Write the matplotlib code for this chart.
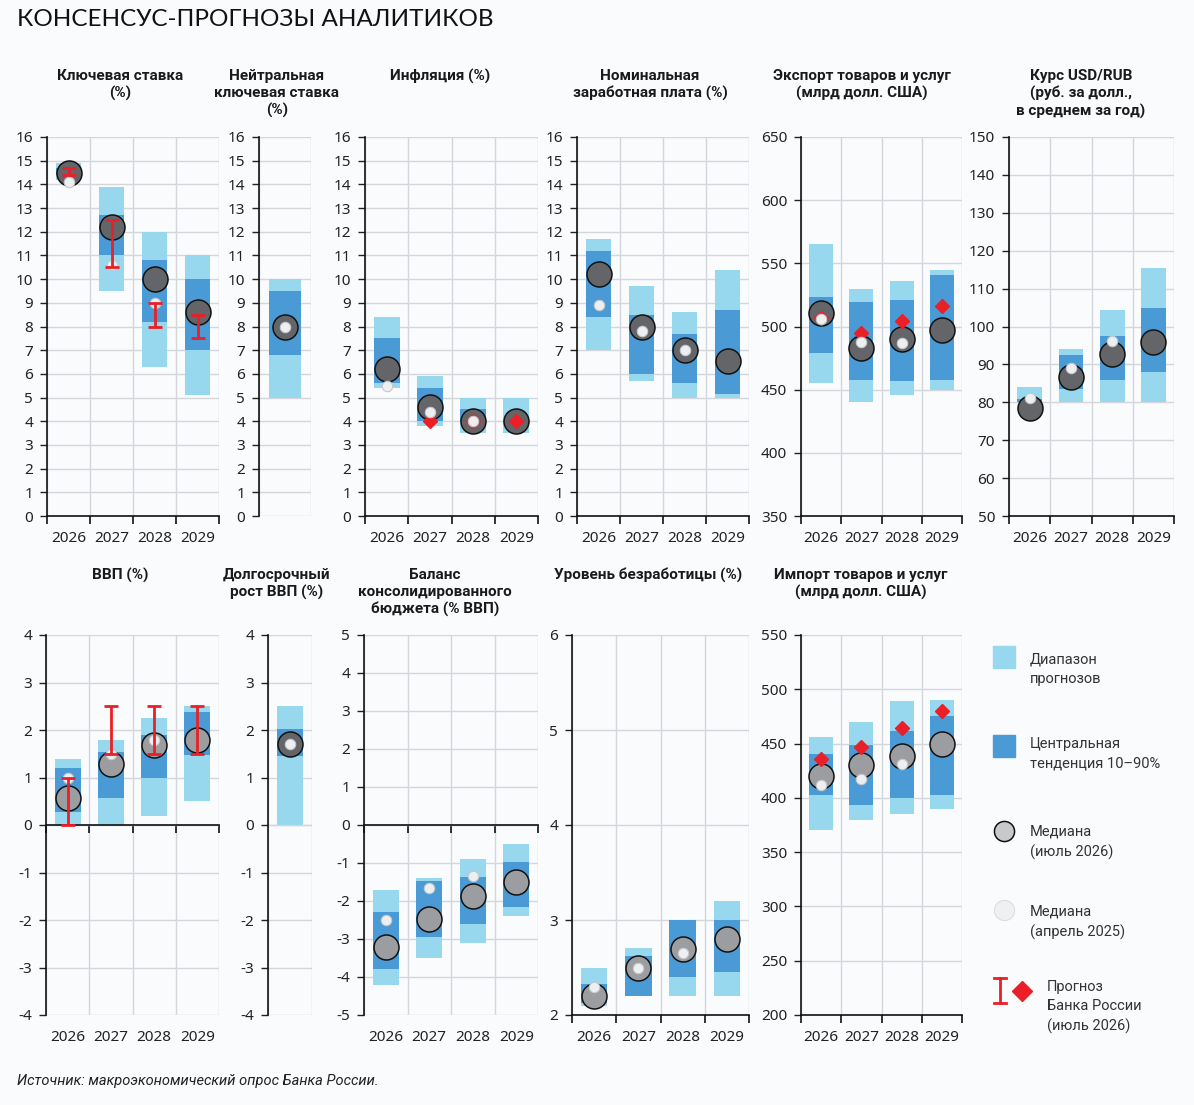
import numpy as np
import matplotlib
matplotlib.use('Agg')
import matplotlib.pyplot as plt
from matplotlib.patches import Rectangle

plt.rcParams['axes.unicode_minus'] = False
plt.rcParams['font.family'] = ['Noto Sans', 'DejaVu Sans']

# ---------------- data ----------------
years = ['2026', '2027', '2028', '2029']
nan = np.nan

key_lo = [14.2, 9.5, 6.3, 5.1]
key_hi = [14.9, 13.9, 12.0, 11.0]
key_p10 = [14.4, 11.0, 8.2, 7.0]
key_p90 = [14.7, 12.7, 10.8, 10.0]
key_med = [14.5, 12.2, 10.0, 8.6]
key_apr = [14.1, 10.6, 9.0, nan]
key_cb_lo = [14.4, 10.5, 8.0, 7.5]
key_cb_hi = [14.7, 12.5, 9.0, 8.5]

neu_lo = [5.0]
neu_hi = [10.0]
neu_p10 = [6.8]
neu_p90 = [9.5]
neu_med = [8.0]
neu_apr = [8.0]

inf_lo = [5.4, 3.8, 3.5, 3.5]
inf_hi = [8.4, 5.9, 5.0, 5.0]
inf_p10 = [5.6, 4.0, 4.0, 4.0]
inf_p90 = [7.5, 5.4, 4.5, 4.0]
inf_med = [6.2, 4.6, 4.0, 4.0]
inf_apr = [5.5, 4.4, 4.0, nan]
inf_cb = [nan, 4.0, 4.0, 4.0]

wag_lo = [7.0, 5.7, 5.0, 5.0]
wag_hi = [11.7, 9.7, 8.6, 10.4]
wag_p10 = [8.4, 6.0, 5.6, 5.15]
wag_p90 = [11.2, 8.5, 7.7, 8.7]
wag_med = [10.2, 8.0, 7.0, 6.55]
wag_apr = [8.9, 7.8, 7.0, nan]

exp_lo = [455, 440, 446, 450]
exp_hi = [565, 530, 536, 545]
exp_p10 = [479, 458, 457, 458]
exp_p90 = [523, 519, 521, 541]
exp_med = [511, 483, 490, 497]
exp_apr = [506, 488, 487, nan]
exp_cb = [507, 495, 504, 516]

usd_lo = [80, 80, 80, 80]
usd_hi = [84, 94, 104.4, 115.4]
usd_p10 = [80, 83.5, 86, 88]
usd_p90 = [81, 92.4, 97.5, 104.9]
usd_med = [78.4, 86.7, 92.7, 95.8]
usd_apr = [81.2, 89.1, 96.3, nan]

gdp_lo = [0.0, 0.0, 0.2, 0.5]
gdp_hi = [1.4, 1.8, 2.25, 2.5]
gdp_p10 = [0.28, 0.57, 0.98, 1.47]
gdp_p90 = [1.19, 1.53, 1.9, 2.37]
gdp_med = [0.57, 1.29, 1.69, 1.8]
gdp_apr = [1.0, 1.5, 1.8, nan]
gdp_cb_lo = [0.0, 1.5, 1.5, 1.5]
gdp_cb_hi = [1.0, 2.5, 2.5, 2.5]

ltg_lo = [0.0]
ltg_hi = [2.5]
ltg_p10 = [1.46]
ltg_p90 = [2.03]
ltg_med = [1.7]
ltg_apr = [1.7]

bud_lo = [-4.2, -3.5, -3.1, -2.4]
bud_hi = [-1.7, -1.4, -0.9, -0.5]
bud_p10 = [-3.8, -2.95, -2.6, -2.15]
bud_p90 = [-2.3, -1.47, -1.37, -0.97]
bud_med = [-3.2, -2.47, -1.88, -1.5]
bud_apr = [-2.5, -1.65, -1.35, nan]

une_lo = [2.1, 2.2, 2.2, 2.2]
une_hi = [2.5, 2.7, 3.0, 3.2]
une_p10 = [2.13, 2.2, 2.4, 2.45]
une_p90 = [2.33, 2.62, 3.0, 3.0]
une_med = [2.2, 2.5, 2.7, 2.8]
une_apr = [2.3, 2.5, 2.65, nan]

imp_lo = [370, 380, 385, 390]
imp_hi = [456, 470, 489, 490]
imp_p10 = [403, 393, 400, 403]
imp_p90 = [440, 449, 462, 475]
imp_med = [420, 430, 439, 450]
imp_apr = [412, 417, 431, nan]
imp_cb = [436, 447, 464, 480]

# ---------------- style ----------------
BG = '#fafbfd'
LIGHT = '#97d8ee'
DARK = '#4a9bd5'
MED_D = '#636568'
MED_L = '#9c9da0'
APR = '#eeeff1'
APR_E = '#c6c8cb'
RED = '#ea1f27'
GRID = '#d3d7db'
TITLE_FONT = ['Roboto', 'DejaVu Sans']

W, H = 1194, 1105
fig = plt.figure(figsize=(W / 100, H / 100), dpi=100)
fig.patch.set_facecolor(BG)


def px_axes(x0, x1, ytop, ybot):
    return fig.add_axes([x0 / W, 1 - ybot / H, (x1 - x0) / W, (ybot - ytop) / H])


def panel(rect, title, title_xy, ylim, ystep, lo, hi, p10, p90, med, apr,
          med_color=MED_D, cb=None, cb_lo=None, cb_hi=None, labels=years,
          zero_axis=False):
    ax = px_axes(*rect)
    ax.set_facecolor(BG)
    n = len(lo)
    x = np.arange(n)
    ax.set_xlim(-0.5, n - 0.5)
    ax.set_ylim(*ylim)
    yt = np.arange(ylim[0], ylim[1] + ystep / 2, ystep)
    ax.set_yticks(yt)
    ax.set_yticklabels([f'{int(round(v))}' for v in yt])
    ax.tick_params(axis='y', length=5, width=1, pad=5, labelsize=11,
                   colors='#222222', direction='out')
    ax.set_xticks(np.arange(-0.5, n, 1.0), minor=True)
    ax.grid(True, which='major', axis='y', color=GRID, lw=1.0)
    ax.grid(True, which='minor', axis='x', color=GRID, lw=1.0)
    ax.set_axisbelow(True)
    for s in ['top', 'right']:
        ax.spines[s].set_visible(False)
    ax.spines['left'].set_color('#111111')
    ax.spines['left'].set_linewidth(1.2)

    lo_a = np.array(lo, float); hi_a = np.array(hi, float)
    p10_a = np.array(p10, float); p90_a = np.array(p90, float)
    ax.bar(x, hi_a - lo_a, bottom=lo_a, width=0.6, color=LIGHT, zorder=2)
    ax.bar(x, p90_a - p10_a, bottom=p10_a, width=0.6, color=DARK, zorder=3)
    ax.plot(x, med, 'o', ms=18, mfc=med_color, mec='#111111', mew=1.1,
            ls='none', zorder=4)
    if cb is not None:
        ax.plot(x, cb, 'D', ms=7, color=RED, ls='none', zorder=5)
    ax.plot(x, apr, 'o', ms=7.5, mfc=APR, mec=APR_E, mew=0.8, ls='none',
            zorder=6)
    if cb_lo is not None:
        lo_c = np.array(cb_lo, float); hi_c = np.array(cb_hi, float)
        ax.errorbar(x, (lo_c + hi_c) / 2, yerr=(hi_c - lo_c) / 2, fmt='none',
                    ecolor=RED, elinewidth=2.0, capsize=4.8, capthick=2.0,
                    zorder=7)

    if n > 1:
        if zero_axis:
            ax.spines['bottom'].set_position(('data', 0))
            ax.spines['bottom'].set_color('#111111')
            ax.spines['bottom'].set_linewidth(1.2)
            ax.set_xticks(x)
            ax.tick_params(axis='x', which='major', length=0, labelbottom=False)
            ax.tick_params(axis='x', which='minor', length=6, width=1.2,
                           color='#111111', direction='out')
            sec = ax.secondary_xaxis(0)
            sec.set_xticks(x, labels)
            sec.tick_params(length=0, pad=11, labelsize=11, colors='#222222')
            sec.spines['bottom'].set_visible(False)
        else:
            ax.spines['bottom'].set_color('#111111')
            ax.spines['bottom'].set_linewidth(1.2)
            ax.set_xticks(x, labels)
            ax.tick_params(axis='x', which='major', length=0, pad=11,
                           labelsize=11, colors='#222222')
            ax.tick_params(axis='x', which='minor', length=6, width=1.2,
                           color='#111111', direction='out')
    else:
        ax.set_xticks([])
        ax.tick_params(axis='x', which='minor', length=0)
        ax.spines['bottom'].set_visible(False)
        if zero_axis:
            ax.axhline(0, color=GRID, lw=1.0, zorder=1)

    fig.text(title_xy[0] / W, 1 - title_xy[1] / H, title, ha='center',
             va='top', fontsize=11, fontweight='bold', family=TITLE_FONT,
             linespacing=1.25, color='#1a1a1a')
    return ax


TOP = (137, 516)
BOT = (635, 1015)

panel((47, 219) + TOP, 'Ключевая ставка\n(%)', (120, 69), (0, 16), 1,
      key_lo, key_hi, key_p10, key_p90, key_med, key_apr,
      cb_lo=key_cb_lo, cb_hi=key_cb_hi)
panel((259, 311) + TOP, 'Нейтральная\nключевая ставка\n(%)', (277, 69), (0, 16), 1,
      neu_lo, neu_hi, neu_p10, neu_p90, neu_med, neu_apr)
panel((365, 538) + TOP, 'Инфляция (%)', (440, 69), (0, 16), 1,
      inf_lo, inf_hi, inf_p10, inf_p90, inf_med, inf_apr, cb=inf_cb)
panel((577, 749) + TOP, 'Номинальная\nзаработная плата (%)', (650, 69), (0, 16), 1,
      wag_lo, wag_hi, wag_p10, wag_p90, wag_med, wag_apr)
panel((801, 962) + TOP, 'Экспорт товаров и услуг\n(млрд долл. США)', (862, 69),
      (350, 650), 50, exp_lo, exp_hi, exp_p10, exp_p90, exp_med, exp_apr,
      cb=exp_cb)
panel((1009, 1174) + TOP, 'Курс USD/RUB\n(руб. за долл.,\nв среднем за год)',
      (1081, 69), (50, 150), 10, usd_lo, usd_hi, usd_p10, usd_p90, usd_med,
      usd_apr)

panel((46, 219) + BOT, 'ВВП (%)', (120, 568), (-4, 4), 1,
      gdp_lo, gdp_hi, gdp_p10, gdp_p90, gdp_med, gdp_apr, med_color=MED_L,
      cb_lo=gdp_cb_lo, cb_hi=gdp_cb_hi, zero_axis=True)
panel((268, 312) + BOT, 'Долгосрочный\nрост ВВП (%)', (277, 568), (-4, 4), 1,
      ltg_lo, ltg_hi, ltg_p10, ltg_p90, ltg_med, ltg_apr, zero_axis=True)
panel((364, 538) + BOT, 'Баланс\nконсолидированного\nбюджета (% ВВП)', (435, 568),
      (-5, 5), 1, bud_lo, bud_hi, bud_p10, bud_p90, bud_med, bud_apr,
      med_color=MED_L, zero_axis=True)
panel((572, 749) + BOT, 'Уровень безработицы (%)', (648, 568), (2, 6), 1,
      une_lo, une_hi, une_p10, une_p90, une_med, une_apr, med_color=MED_L)
panel((801, 962) + BOT, 'Импорт товаров и услуг\n(млрд долл. США)', (861, 568),
      (200, 550), 50, imp_lo, imp_hi, imp_p10, imp_p90, imp_med, imp_apr,
      med_color=MED_L, cb=imp_cb)

# ---------------- legend ----------------
lax = fig.add_axes([0, 0, 1, 1], facecolor='none')
lax.set_xlim(0, W)
lax.set_ylim(H, 0)
lax.axis('off')
LF = dict(fontsize=10.5, family=TITLE_FONT, color='#333333', va='center',
          ha='left', linespacing=1.5)
lax.add_patch(Rectangle((993, 646), 22, 22, color=LIGHT))
lax.text(1030, 669, 'Диапазон\nпрогнозов', **LF)
lax.add_patch(Rectangle((993, 735), 22, 22, color=DARK))
lax.text(1030, 754, 'Центральная\nтенденция 10–90%', **LF)
lax.plot([1004], [831], 'o', ms=14.5, mfc='#c8c9cb', mec='#111111', mew=1.1)
lax.text(1030, 842, 'Медиана\n(июль 2026)', **LF)
lax.plot([1004], [910], 'o', ms=14.5, mfc='#f0f0f1', mec='#dcdde0', mew=0.8)
lax.text(1030, 922, 'Медиана\n(апрель 2025)', **LF)
lax.plot([1000, 1000], [978, 1003], color=RED, lw=2)
lax.plot([994, 1006], [978, 978], color=RED, lw=2)
lax.plot([994, 1006], [1003, 1003], color=RED, lw=2)
lax.plot([1022], [991], 'D', ms=10, color=RED)
lax.text(1047, 1007, 'Прогноз\nБанка России\n(июль 2026)', **LF)

# ---------------- texts ----------------
fig.text(17 / W, 1 - 20 / H, 'КОНСЕНСУС-ПРОГНОЗЫ АНАЛИТИКОВ', ha='left',
         va='center', fontsize=17.5, family=['Lato', 'DejaVu Sans'],
         fontweight='normal', color='#111111')
fig.text(17 / W, 1 - 1081 / H, 'Источник: макроэкономический опрос Банка России.',
         ha='left', va='center', fontsize=10.5, style='italic',
         family=['Roboto', 'DejaVu Sans'], color='#222222')

fig.savefig('out.png', dpi=100, facecolor=BG)
